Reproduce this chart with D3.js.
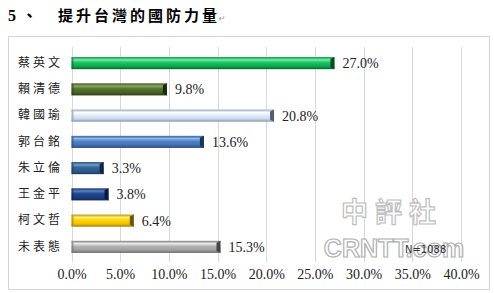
<!DOCTYPE html>
<html>
<head>
<meta charset="utf-8">
<script src="https://cdn.jsdelivr.net/npm/d3@7"></script>
<style>
  html, body { margin: 0; padding: 0; background: #fff; }
  svg { display: block; }
</style>
</head>
<body>
<svg id="chart" width="494" height="293"></svg>
<script>
// Survey: who best strengthens Taiwan's national defence (N=1088)
const categories = ["蔡英文", "賴清德", "韓國瑜", "郭台銘", "朱立倫", "王金平", "柯文哲", "未表態"];
const values = [27.0, 9.8, 20.8, 13.6, 3.3, 3.8, 6.4, 15.3];
const tickValues = [0, 5, 10, 15, 20, 25, 30, 35, 40];
const tickLabels = ["0.0%", "5.0%", "10.0%", "15.0%", "20.0%", "25.0%", "30.0%", "35.0%", "40.0%"];

// cylinder-style shading per bar: [top edge, highlight, body, lower body, bottom edge, end cap]
const barShades = [
  ["#0a8a3e", "#6fefa6", "#1fc463", "#0ca44b", "#05672c", "#034d20"],
  ["#3b5220", "#8aa862", "#56722f", "#465f25", "#2c3d16", "#1e2a0e"],
  ["#8ea3bc", "#ffffff", "#e4eef8", "#c9d9ea", "#7f93ab", "#4f5e70"],
  ["#33609e", "#8fb5e6", "#4f83c8", "#3f6fb0", "#27497a", "#1b3458"],
  ["#214870", "#6f9cc8", "#33679a", "#2a5886", "#1a3a5c", "#112740"],
  ["#142e63", "#5a7fc4", "#1f4690", "#1a3c7d", "#0f2552", "#0a1a3a"],
  ["#b89000", "#fff27a", "#ffd700", "#f0c000", "#a07a00", "#6e5400"],
  ["#7a7a7a", "#e8e8e8", "#b4b4b4", "#9c9c9c", "#6a6a6a", "#464646"]
];

const svg = d3.select("#chart");
const defs = svg.append("defs");

barShades.forEach((s, i) => {
  const g = defs.append("linearGradient")
    .attr("id", "bar" + i).attr("x1", 0).attr("y1", 0).attr("x2", 0).attr("y2", 1);
  [[0, s[0]], [0.22, s[1]], [0.45, s[2]], [0.78, s[3]], [1, s[4]]].forEach(([o, c]) =>
    g.append("stop").attr("offset", o).attr("stop-color", c));
});

// frame around the chart
svg.append("rect")
  .attr("x", 8.5).attr("y", 36.5).attr("width", 481).attr("height", 253)
  .attr("fill", "#fff").attr("stroke", "#d4d4d4");

// heading
svg.append("text")
  .attr("x", 8).attr("y", 21)
  .attr("font-family", "Liberation Serif, serif").attr("font-weight", "bold")
  .attr("font-size", 16).attr("fill", "#000")
  .text("5");
svg.append("text")
  .attr("x", 22).attr("y", 21)
  .attr("font-family", "Noto Sans CJK TC").attr("font-weight", "bold")
  .attr("font-size", 15).attr("fill", "#000")
  .text("、");
svg.append("text")
  .attr("x", 58).attr("y", 21)
  .attr("font-family", "Noto Sans CJK TC").attr("font-weight", "bold")
  .attr("font-size", 15).attr("letter-spacing", 3).attr("fill", "#000")
  .text("提升台灣的國防力量");
svg.append("text")
  .attr("x", 219).attr("y", 21)
  .attr("font-family", "DejaVu Sans").attr("font-size", 8).attr("fill", "#9a9a9a")
  .text("↵");

const x = d3.scaleLinear().domain([0, 40]).range([71.5, 461]);
const y = d3.scaleBand().domain(categories).range([50, 260]).paddingInner(0.54).paddingOuter(0.27);

// vertical gridlines
svg.append("g")
  .selectAll("line").data(tickValues).join("line")
  .attr("x1", d => Math.round(x(d)) + 0.5).attr("x2", d => Math.round(x(d)) + 0.5)
  .attr("y1", 47).attr("y2", 262)
  .attr("stroke", "#d9d9d9").attr("stroke-width", 1);

// x axis labels
const xAxis = d3.axisBottom(x).tickValues(tickValues).tickFormat((d, i) => tickLabels[i]).tickSize(0).tickPadding(0);
const gx = svg.append("g").attr("transform", "translate(0,269)").call(xAxis);
gx.select(".domain").remove();
gx.selectAll("text")
  .attr("font-family", "Liberation Serif, serif").attr("font-size", 14)
  .attr("fill", "#222");

// category labels
const yAxis = d3.axisLeft(y).tickSize(0).tickPadding(0);
const gy = svg.append("g").attr("transform", "translate(18,0)").call(yAxis);
gy.select(".domain").remove();
gy.selectAll("text")
  .attr("text-anchor", "start").attr("x", 0)
  .attr("font-family", "Noto Sans CJK TC").attr("font-size", 12)
  .attr("letter-spacing", 3).attr("fill", "#222");

// bars
const bars = svg.append("g").selectAll("g").data(categories).join("g");
const bh = y.bandwidth();
bars.append("rect")
  .attr("x", x(0)).attr("y", d => y(d))
  .attr("width", (d, i) => x(values[i]) - x(0)).attr("height", bh)
  .attr("fill", (d, i) => `url(#bar${i})`);
// bevelled end cap
bars.append("path")
  .attr("d", (d, i) => {
    const xe = x(values[i]), y0 = y(d);
    return `M${xe - 4},${y0 + 2} L${xe},${y0} L${xe},${y0 + bh} L${xe - 4},${y0 + bh - 2} Z`;
  })
  .attr("fill", (d, i) => barShades[i][5]);
bars.append("path")
  .attr("d", (d, i) => {
    const xs = x(0), y0 = y(d);
    return `M${xs},${y0} L${xs + 2},${y0 + 2} L${xs + 2},${y0 + bh - 2} L${xs},${y0 + bh} Z`;
  })
  .attr("fill", (d, i) => barShades[i][4]).attr("opacity", 0.6);

// value labels
bars.append("text")
  .attr("x", (d, i) => x(values[i]) + 8).attr("y", d => y(d) + bh / 2)
  .attr("dy", "0.36em")
  .attr("font-family", "Liberation Serif, serif").attr("font-size", 14)
  .attr("fill", "#222")
  .text((d, i) => values[i].toFixed(1) + "%");

// site watermark
const wm = svg.append("g").attr("opacity", 0.9);
wm.append("text")
  .attr("x", 392).attr("y", 222).attr("text-anchor", "middle")
  .attr("font-family", "Noto Sans CJK TC").attr("font-weight", "bold")
  .attr("font-size", 27).attr("letter-spacing", 7)
  .attr("fill", "#fff").attr("stroke", "#b8b8b8").attr("stroke-width", 1.2)
  .text("中評社");
wm.append("text")
  .attr("x", 394).attr("y", 257).attr("text-anchor", "middle")
  .attr("font-family", "Liberation Sans, sans-serif").attr("font-weight", "bold")
  .attr("font-size", 25)
  .attr("fill", "#fff").attr("fill-opacity", 0.7).attr("stroke", "#a8a8a8").attr("stroke-width", 1.2)
  .text("CRNTT.com");

// sample size, printed over the watermark
svg.append("text")
  .attr("x", 405).attr("y", 253)
  .attr("font-family", "DejaVu Sans, sans-serif").attr("font-size", 10)
  .attr("fill", "#333")
  .text("N=1088");
</script>
</body>
</html>
